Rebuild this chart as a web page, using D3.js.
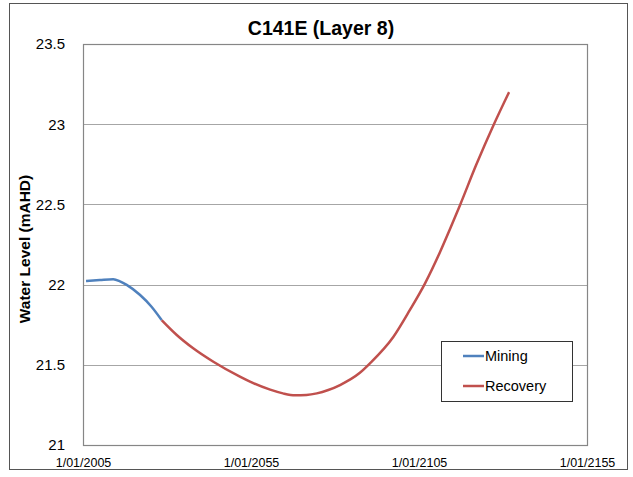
<!DOCTYPE html>
<html><head><meta charset="utf-8">
<script src="https://cdn.jsdelivr.net/npm/d3@7"></script>
<style>body{margin:0;background:#fff;} svg{display:block;font-family:"Liberation Sans",Arial,sans-serif;}</style>
</head><body>
<svg id="chart" width="633" height="477"></svg>
<script>
const title = "C141E (Layer 8)";
const yLabel = "Water Level (mAHD)";
const xTicks = [2005, 2055, 2105, 2155];
const xTickLabels = ["1/01/2005", "1/01/2055", "1/01/2105", "1/01/2155"];
const yTicks = [21, 21.5, 22, 22.5, 23, 23.5];
const miningYears = [2005.9, 2010, 2014, 2016, 2018, 2022, 2025.4, 2028.4];
const miningValues = [22.022, 22.028, 22.033, 22.02, 21.998, 21.935, 21.862, 21.779];
const recoveryYears = [2028.4, 2032.9, 2037.8, 2043.8, 2051.7, 2054.7, 2060.7, 2064.5, 2068.1, 2071.5, 2074.6, 2078, 2081.5, 2087.4, 2090.4, 2097.4, 2102.3, 2106.8, 2111.3, 2114.2, 2117.2, 2122, 2127.3, 2131.8];
const recoveryValues = [21.779, 21.686, 21.603, 21.519, 21.426, 21.395, 21.345, 21.322, 21.31, 21.312, 21.322, 21.343, 21.374, 21.45, 21.509, 21.675, 21.842, 22.008, 22.205, 22.345, 22.495, 22.745, 23.0, 23.2];
const seriesNames = ["Mining", "Recovery"];
const seriesColors = ["#4F81BD", "#C0504D"];

const svg = d3.select("#chart");
const M = {left: 83, right: 587, top: 44, bottom: 445};
const x = d3.scaleLinear().domain([2005, 2155]).range([M.left, M.right]);
const y = d3.scaleLinear().domain([21, 23.5]).range([M.bottom, M.top]);

// outer frame
svg.append("rect").attr("x", 9.5).attr("y", 3.5).attr("width", 618).attr("height", 466)
  .attr("fill", "#fff").attr("stroke", "#555").attr("stroke-width", 1);

// gridlines
svg.append("g").selectAll("line").data(yTicks.slice(1, -1)).join("line")
  .attr("x1", M.left).attr("x2", M.right)
  .attr("y1", d => Math.round(y(d)) + 0.5).attr("y2", d => Math.round(y(d)) + 0.5)
  .attr("stroke", "#a6a6a6").attr("stroke-width", 1);

// plot border
svg.append("rect").attr("x", M.left + 0.5).attr("y", M.top + 0.5)
  .attr("width", M.right - M.left).attr("height", M.bottom - M.top)
  .attr("fill", "none").attr("stroke", "#868686").attr("stroke-width", 1.2);

// y axis labels
const yAxis = d3.axisLeft(y).tickValues(yTicks).tickFormat(d3.format("")).tickSize(0).tickPadding(18);
const yg = svg.append("g").attr("transform", `translate(${M.left},0)`).call(yAxis);
yg.select(".domain").remove();
yg.selectAll("text").attr("font-size", 15).attr("fill", "#000")
  .attr("font-family", "'Liberation Sans Narrow','Liberation Sans',sans-serif");

// x axis labels
const xAxis = d3.axisBottom(x).tickValues(xTicks).tickFormat((d, i) => xTickLabels[i]).tickSize(0).tickPadding(13);
const xg = svg.append("g").attr("transform", `translate(0,${M.bottom})`).call(xAxis);
xg.select(".domain").remove();
xg.selectAll("text").attr("font-size", 12.5).attr("fill", "#000")
  .attr("font-family", "'Liberation Sans Narrow','Liberation Sans',sans-serif");

// lines (mining drawn with the first recovery segment as context so the join is smooth)
const line = d3.line().x(d => x(d[0])).y(d => y(d[1])).curve(d3.curveMonotoneX);
const mining = miningYears.map((yr, i) => [yr, miningValues[i]]);
const recovery = recoveryYears.map((yr, i) => [yr, recoveryValues[i]]);
[recovery, mining].forEach((data, k) => {
  const i = k === 0 ? 1 : 0;
  svg.append("path").datum(data).attr("d", line).attr("fill", "none")
    .attr("stroke", seriesColors[i]).attr("stroke-width", 2.5).attr("stroke-linejoin", "round");
});

// title
svg.append("text").attr("x", 321).attr("y", 35).attr("text-anchor", "middle")
  .attr("font-size", 19.5).attr("font-weight", "bold").text(title);

// y label
svg.append("text").attr("transform", "translate(30,249) rotate(-90)").attr("text-anchor", "middle")
  .attr("font-size", 15.5).attr("font-weight", "bold").text(yLabel);

// legend
const lg = svg.append("g");
lg.append("rect").attr("x", 441.5).attr("y", 341.5).attr("width", 131).attr("height", 60)
  .attr("fill", "#fff").attr("stroke", "#333").attr("stroke-width", 1);
seriesNames.forEach((name, i) => {
  const yy = 356 + i * 30;
  lg.append("line").attr("x1", 463).attr("x2", 484).attr("y1", yy).attr("y2", yy)
    .attr("stroke", seriesColors[i]).attr("stroke-width", 2.5);
  lg.append("text").attr("x", 485).attr("y", yy + 5).attr("font-size", 14.5).text(name);
});
</script>
</body></html>
